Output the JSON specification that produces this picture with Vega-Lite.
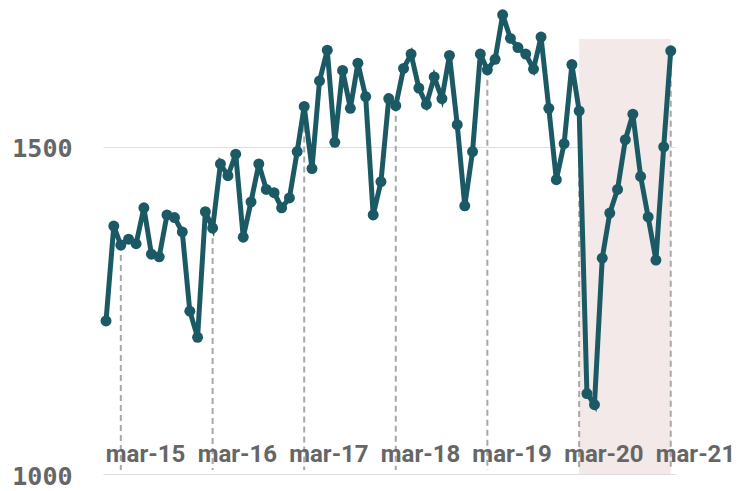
{
  "$schema": "https://vega.github.io/schema/vega-lite/v6.json",
  "autosize": {"type": "none"},
  "width": 572,
  "height": 469,
  "padding": {"left": 103, "top": 5, "right": 69, "bottom": 17},
  "background": "white",
  "config": {
    "view": {"stroke": null},
    "axisY": {
      "title": null,
      "domain": false,
      "ticks": false,
      "grid": true,
      "gridColor": "#dddddd",
      "gridWidth": 1,
      "labelFont": "DejaVu Sans Mono",
      "labelFontWeight": "bold",
      "labelFontSize": 25,
      "labelColor": "#666666",
      "labelPadding": 31,
      "labelOffset": 2
    }
  },
  "data": {
    "values": [
      {"date": "2015-01-01", "value": 1234},
      {"date": "2015-02-01", "value": 1379},
      {"date": "2015-03-01", "value": 1350},
      {"date": "2015-04-01", "value": 1359},
      {"date": "2015-05-01", "value": 1352},
      {"date": "2015-06-01", "value": 1407},
      {"date": "2015-07-01", "value": 1336},
      {"date": "2015-08-01", "value": 1332},
      {"date": "2015-09-01", "value": 1396},
      {"date": "2015-10-01", "value": 1392},
      {"date": "2015-11-01", "value": 1370},
      {"date": "2015-12-01", "value": 1249},
      {"date": "2016-01-01", "value": 1209},
      {"date": "2016-02-01", "value": 1401},
      {"date": "2016-03-01", "value": 1376},
      {"date": "2016-04-01", "value": 1474},
      {"date": "2016-05-01", "value": 1456},
      {"date": "2016-06-01", "value": 1489},
      {"date": "2016-07-01", "value": 1362},
      {"date": "2016-08-01", "value": 1416},
      {"date": "2016-09-01", "value": 1474},
      {"date": "2016-10-01", "value": 1435},
      {"date": "2016-11-01", "value": 1430},
      {"date": "2016-12-01", "value": 1407},
      {"date": "2017-01-01", "value": 1422},
      {"date": "2017-02-01", "value": 1493},
      {"date": "2017-03-01", "value": 1562},
      {"date": "2017-04-01", "value": 1467},
      {"date": "2017-05-01", "value": 1601},
      {"date": "2017-06-01", "value": 1648},
      {"date": "2017-07-01", "value": 1507},
      {"date": "2017-08-01", "value": 1617},
      {"date": "2017-09-01", "value": 1559},
      {"date": "2017-10-01", "value": 1628},
      {"date": "2017-11-01", "value": 1577},
      {"date": "2017-12-01", "value": 1396},
      {"date": "2018-01-01", "value": 1447},
      {"date": "2018-02-01", "value": 1574},
      {"date": "2018-03-01", "value": 1563},
      {"date": "2018-04-01", "value": 1620},
      {"date": "2018-05-01", "value": 1642},
      {"date": "2018-06-01", "value": 1590},
      {"date": "2018-07-01", "value": 1565},
      {"date": "2018-08-01", "value": 1607},
      {"date": "2018-09-01", "value": 1574},
      {"date": "2018-10-01", "value": 1640},
      {"date": "2018-11-01", "value": 1534},
      {"date": "2018-12-01", "value": 1410},
      {"date": "2019-01-01", "value": 1493},
      {"date": "2019-02-01", "value": 1642},
      {"date": "2019-03-01", "value": 1618},
      {"date": "2019-04-01", "value": 1634},
      {"date": "2019-05-01", "value": 1702},
      {"date": "2019-06-01", "value": 1666},
      {"date": "2019-07-01", "value": 1652},
      {"date": "2019-08-01", "value": 1642},
      {"date": "2019-09-01", "value": 1619},
      {"date": "2019-10-01", "value": 1668},
      {"date": "2019-11-01", "value": 1559},
      {"date": "2019-12-01", "value": 1450},
      {"date": "2020-01-01", "value": 1505},
      {"date": "2020-02-01", "value": 1626},
      {"date": "2020-03-01", "value": 1555},
      {"date": "2020-04-01", "value": 1123},
      {"date": "2020-05-01", "value": 1106},
      {"date": "2020-06-01", "value": 1330},
      {"date": "2020-07-01", "value": 1399},
      {"date": "2020-08-01", "value": 1435},
      {"date": "2020-09-01", "value": 1511},
      {"date": "2020-10-01", "value": 1550},
      {"date": "2020-11-01", "value": 1455},
      {"date": "2020-12-01", "value": 1393},
      {"date": "2021-01-01", "value": 1327},
      {"date": "2021-02-01", "value": 1500},
      {"date": "2021-03-01", "value": 1647}
    ]
  },
  "layer": [
    {
      "data": {"values": [{"start": "2020-03-01", "end": "2021-03-01", "low": 1000, "high": 1665}]},
      "mark": {"type": "rect", "color": "#f3e9e8"},
      "encoding": {
        "x": {"field": "start", "type": "temporal", "axis": null},
        "x2": {"field": "end"},
        "y": {"field": "low", "type": "quantitative", "axis": {"values": [1000, 1500], "format": "d"}},
        "y2": {"field": "high"}
      }
    },
    {
      "data": {"values": [
        {"date": "2015-03-01", "value": 1350, "base": 1006},
        {"date": "2016-03-01", "value": 1376, "base": 1006},
        {"date": "2017-03-01", "value": 1562, "base": 1006},
        {"date": "2018-03-01", "value": 1563, "base": 1006},
        {"date": "2019-03-01", "value": 1618, "base": 1006},
        {"date": "2020-03-01", "value": 1555, "base": 1006},
        {"date": "2021-03-01", "value": 1647, "base": 1006}
      ]},
      "mark": {"type": "rule", "color": "#a8a8a8", "strokeWidth": 2, "strokeDash": [6, 4]},
      "encoding": {
        "x": {"field": "date", "type": "temporal", "axis": null},
        "y": {"field": "value", "type": "quantitative", "axis": {"values": [1000, 1500], "format": "d"}},
        "y2": {"field": "base"}
      }
    },
    {
      "data": {"values": [
        {"date": "2015-03-01", "label": "mar-15", "base": 1000},
        {"date": "2016-03-01", "label": "mar-16", "base": 1000},
        {"date": "2017-03-01", "label": "mar-17", "base": 1000},
        {"date": "2018-03-01", "label": "mar-18", "base": 1000},
        {"date": "2019-03-01", "label": "mar-19", "base": 1000},
        {"date": "2020-03-01", "label": "mar-20", "base": 1000},
        {"date": "2021-03-01", "label": "mar-21", "base": 1000}
      ]},
      "mark": {"type": "text", "align": "left", "baseline": "alphabetic", "dx": -15, "dy": -12, "font": "Roboto", "fontWeight": "bold", "fontSize": 24, "color": "#666666"},
      "encoding": {
        "x": {"field": "date", "type": "temporal", "axis": null},
        "y": {"field": "base", "type": "quantitative", "axis": {"values": [1000, 1500], "format": "d"}},
        "text": {"field": "label"}
      }
    },
    {
      "mark": {"type": "line", "color": "#1b5a64", "strokeWidth": 5, "point": {"filled": true, "size": 120, "color": "#1b5a64", "opacity": 1}},
      "encoding": {
        "x": {
          "field": "date",
          "type": "temporal",
          "scale": {"domain": [{"year": 2014, "month": 12, "date": 20}, {"year": 2021, "month": 3, "date": 18}]},
          "axis": null
        },
        "y": {
          "field": "value",
          "type": "quantitative",
          "scale": {"domain": [1000, 1717], "nice": false, "zero": false},
          "axis": {"values": [1000, 1500], "format": "d"}
        }
      }
    }
  ]
}
